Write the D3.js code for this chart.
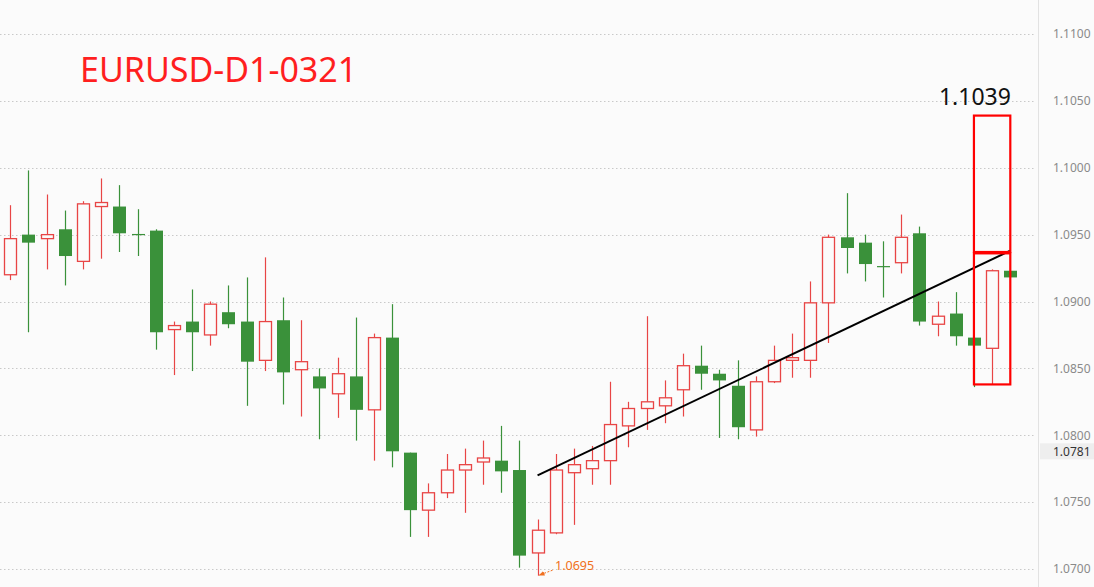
<!DOCTYPE html>
<html><head><meta charset="utf-8">
<script src="https://cdn.jsdelivr.net/npm/d3@7"></script>
<style>body{margin:0;background:#fbfbfb;} svg{display:block;}</style>
</head><body><svg id="c" width="1094" height="587"></svg>
<script>
// ---- data ----
const candleIndex = d3.range(56);
const opens  = [1.0920,1.0950,1.0947,1.0954,1.0930,1.0971,1.0971,1.09505,1.0953,1.0879,1.0885,1.0875,1.0892,1.0885,1.0856,1.0886,1.0849,1.0844,1.0831,1.0844,1.0819,1.0873,1.0787,1.0744,1.0757,1.0774,1.0780,1.0781,1.0774,1.0712,1.0727,1.0772,1.0775,1.0781,1.0807,1.0820,1.0822,1.0834,1.0852,1.0846,1.0837,1.0804,1.0840,1.0856,1.0856,1.0899,1.0948,1.0944,1.09265,1.0929,1.0951,1.0883,1.0891,1.0873,1.0865,1.0923];
const highs  = [1.0972,1.0998,1.0980,1.0968,1.0975,1.0992,1.0987,1.0969,1.0954,1.0885,1.0909,1.0900,1.0912,1.0918,1.0933,1.0903,1.0886,1.0850,1.0858,1.0888,1.0876,1.0898,1.0787,1.0764,1.0786,1.0790,1.0796,1.0807,1.0796,1.0737,1.0786,1.0790,1.0792,1.0840,1.0825,1.0889,1.0841,1.0861,1.0867,1.0849,1.0856,1.0844,1.0867,1.0876,1.0915,1.0950,1.0981,1.0950,1.0945,1.0965,1.0956,1.0900,1.0907,1.0873,1.0924,1.0923];
const lows   = [1.0916,1.0877,1.0924,1.0912,1.0924,1.0932,1.0937,1.0934,1.0864,1.0845,1.0848,1.0867,1.0880,1.0822,1.0848,1.0823,1.0814,1.0797,1.0813,1.0796,1.0781,1.0776,1.0724,1.0724,1.0753,1.0742,1.0763,1.0757,1.0701,1.0695,1.0726,1.0733,1.0763,1.0763,1.0791,1.0804,1.0809,1.0814,1.0834,1.0798,1.0797,1.0799,1.0839,1.0843,1.0843,1.0869,1.0921,1.0915,1.0903,1.0921,1.0882,1.0874,1.0867,1.0836,1.0838,1.0918];
const closes = [1.0947,1.0944,1.0950,1.0934,1.0973,1.0974,1.0951,1.0950,1.0877,1.0882,1.0877,1.0898,1.0883,1.0855,1.0885,1.0847,1.0855,1.0835,1.0846,1.0819,1.0873,1.0788,1.0744,1.0757,1.0774,1.0778,1.0783,1.0773,1.0710,1.0729,1.0774,1.0778,1.0781,1.0808,1.0820,1.0825,1.0828,1.0852,1.0846,1.0841,1.0806,1.0840,1.0856,1.0858,1.0899,1.0948,1.0940,1.0928,1.0926,1.0948,1.0885,1.0889,1.0874,1.0867,1.0923,1.0918];
const priceTicks = [1.0700,1.0750,1.0800,1.0850,1.0900,1.0950,1.1000,1.1050,1.1100];
const tickLabels = ["1.0700","1.0750","1.0800","1.0850","1.0900","1.0950","1.1000","1.1050","1.1100"];
const titleText = "EURUSD-D1-0321";
const trendIdx = [29, 55];
const trendPrice = [1.0770, 1.0938];
const boxIdx = [53, 55];
const upperBox = [1.1039, 1.0937];
const lowerBox = [1.0936, 1.0838];
const targetLabel = "1.1039";
const lowIdx = 29;
const lowValue = 1.0695;
const lowLabel = "1.0695";
const lastPriceLabel = "1.0781";
const lastPricePos = 1.0788;

// ---- scales ----
const W = 1094, H = 587;
const svg = d3.select("#c");
const x = d3.scaleLinear().domain([0, 55]).range([10.3, 1010.3]);
const y = d3.scaleLinear().domain([1.07, 1.11]).range([569, 34]);
const axisX = 1038;
const up = "#e84545", down = "#3a913a";
const font = "'Noto Sans', 'Open Sans', sans-serif";

svg.append("rect").attr("width", W).attr("height", H).attr("fill", "#fbfbfb");

// grid
svg.append("g").selectAll("line").data(priceTicks).join("line")
  .attr("x1", 0).attr("x2", axisX - 2)
  .attr("y1", d => Math.round(y(d)) + 0.5).attr("y2", d => Math.round(y(d)) + 0.5)
  .attr("stroke", "#c9c9c9").attr("stroke-width", 1).attr("stroke-dasharray", "1.5,2.5");

// right axis
svg.append("line").attr("x1", axisX + 0.5).attr("x2", axisX + 0.5).attr("y1", 0).attr("y2", H)
  .attr("stroke", "#e2e2e2").attr("stroke-width", 1);
const axis = d3.axisRight(y).tickValues(priceTicks).tickFormat((d, i) => tickLabels[i]).tickSize(0).tickPadding(15);
const ga = svg.append("g").attr("transform", `translate(${axisX},0)`).call(axis);
ga.select(".domain").remove();
ga.selectAll("text").attr("fill", "#8a8a8a").style("font-family", font).style("font-size", "12px");

// last price label
svg.append("rect").attr("x", axisX + 2).attr("y", y(lastPricePos) - 8).attr("width", W - axisX - 2).attr("height", 16).attr("fill", "#eeeeee");
svg.append("text").attr("x", axisX + 15).attr("y", y(lastPricePos)).attr("dy", "0.35em")
  .attr("fill", "#333").style("font-family", font).style("font-size", "12px").text(lastPriceLabel);

// candles
const data = candleIndex.map(i => ({i, o: opens[i], h: highs[i], l: lows[i], c: closes[i]}));
const g = svg.append("g");
data.forEach(d => {
  const isUp = d.c > d.o;
  const col = isUp ? up : down;
  const cx = Math.round(x(d.i)) + 0.5;
  g.append("line").attr("x1", cx).attr("x2", cx).attr("y1", y(d.h)).attr("y2", y(d.l))
    .attr("stroke", col).attr("stroke-width", 1.2);
  const top = y(Math.max(d.o, d.c)), bot = y(Math.min(d.o, d.c));
  if (isUp) {
    g.append("rect").attr("x", cx - 6).attr("y", top).attr("width", 12).attr("height", Math.max(bot - top, 1))
      .attr("fill", "#fbfbfb").attr("stroke", col).attr("stroke-width", 1.3);
  } else {
    g.append("rect").attr("x", cx - 6.5).attr("y", top).attr("width", 13).attr("height", Math.max(bot - top, 1.2))
      .attr("fill", col);
  }
});

// trend line
svg.append("line")
  .attr("x1", x(trendIdx[0])).attr("y1", y(trendPrice[0]))
  .attr("x2", x(trendIdx[1])).attr("y2", y(trendPrice[1]))
  .attr("stroke", "#000").attr("stroke-width", 2);

// boxes
[upperBox, lowerBox].forEach(b => {
  svg.append("rect").attr("x", x(boxIdx[0])).attr("y", y(b[0]))
    .attr("width", x(boxIdx[1]) - x(boxIdx[0])).attr("height", y(b[1]) - y(b[0]))
    .attr("fill", "none").attr("stroke", "#ff0000").attr("stroke-width", 2.2);
});
svg.append("text").attr("x", x(boxIdx[0]) + 1).attr("y", y(upperBox[0]) - 11)
  .attr("text-anchor", "middle").attr("fill", "#111").style("font-family", font).style("font-size", "23px").text(targetLabel);

// low marker
const defs = svg.append("defs");
defs.append("marker").attr("id", "ah").attr("viewBox", "0 0 10 10").attr("refX", 9).attr("refY", 5)
  .attr("markerWidth", 6).attr("markerHeight", 6).attr("orient", "auto")
  .append("path").attr("d", "M0,1 L10,5 L0,9 Z").attr("fill", "#f07020");
svg.append("line").attr("x1", x(lowIdx) + 15).attr("y1", y(lowValue) - 5.5)
  .attr("x2", x(lowIdx) + 1.5).attr("y2", y(lowValue) - 0.5)
  .attr("stroke", "#f07020").attr("stroke-width", 1).attr("stroke-dasharray", "2,1.5").attr("marker-end", "url(#ah)");
svg.append("text").attr("x", x(lowIdx) + 17.5).attr("y", y(lowValue) - 6)
  .attr("fill", "#f07020").style("font-family", font).style("font-size", "12.5px").text(lowLabel);

// title
svg.append("text").attr("x", 80).attr("y", 82).attr("fill", "#ff1f1f")
  .style("font-family", font).style("font-size", "34px").text(titleText);
</script></body></html>
